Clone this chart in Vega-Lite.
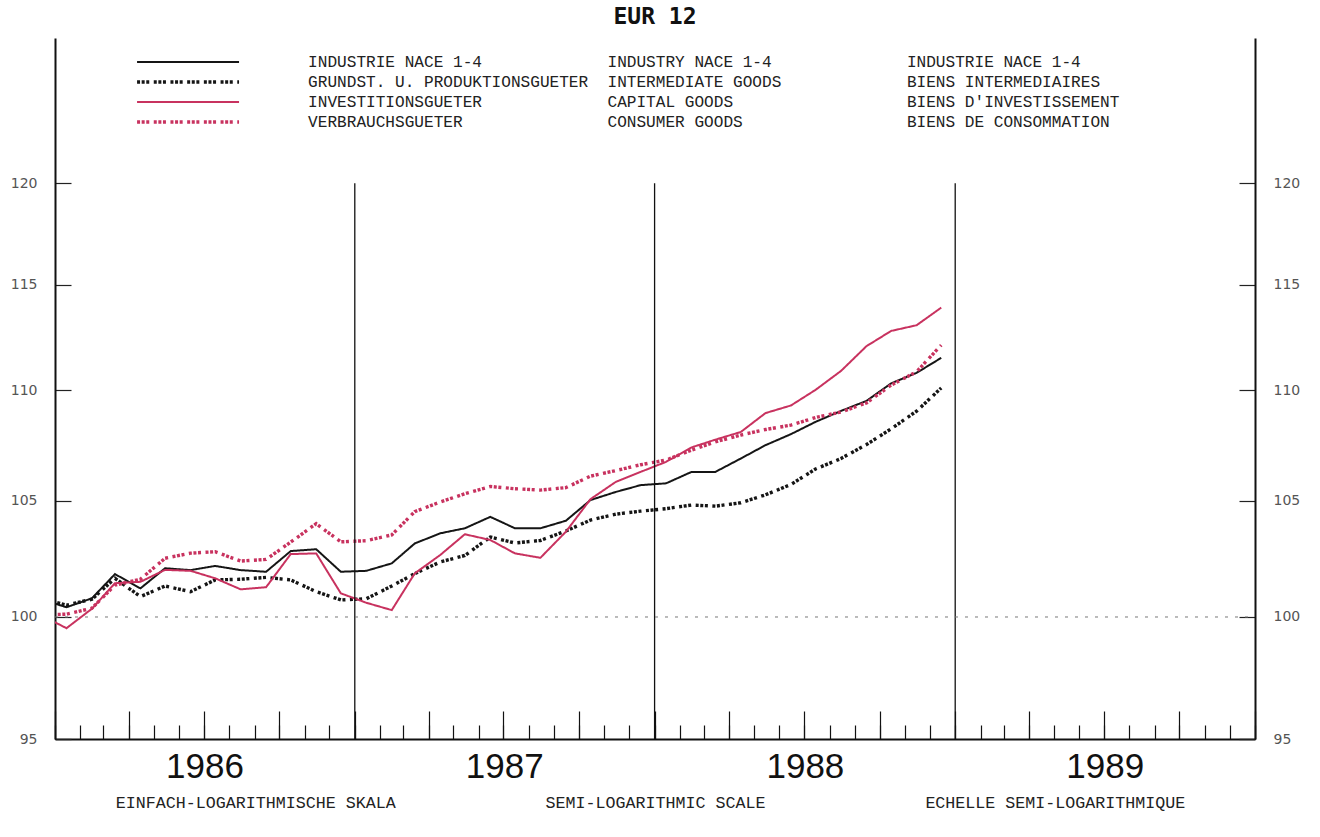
{
  "$schema": "https://vega.github.io/schema/vega-lite/v6.json",
  "width": 1200,
  "height": 701,
  "autosize": {"type": "none"},
  "padding": {"left": 55, "top": 38, "right": 65, "bottom": 98},
  "background": "white",
  "title": {"text": "EUR 12", "font": "DejaVu Sans Mono", "fontSize": 23, "fontWeight": "bold", "color": "#111", "anchor": "middle", "offset": 9},
  "config": {
    "view": {"stroke": null},
    "legend": {
      "orient": "none", "legendX": 82, "legendY": 14, "padding": 0, "title": null,
      "symbolType": "stroke", "symbolSize": 10400, "clipHeight": 20, "rowPadding": 0,
      "symbolOffset": 43, "labelOffset": 112, "labelLimit": 1300, "labelFont": "Liberation Mono", "labelFontSize": 16.1, "labelColor": "#222",
      "symbolStrokeWidth": 2.2
    }
  },
  "layer": [
    {
      "data": {"values": [
        {"date": "1985-12-15", "industrie": 100.75, "grundstoff": 100.78, "investition": 100.08, "verbrauch": 100.08},
        {"date": "1986-01-15", "industrie": 100.41, "grundstoff": 100.50, "investition": 99.53, "verbrauch": 100.12},
        {"date": "1986-02-15", "industrie": 100.79, "grundstoff": 100.75, "investition": 100.35, "verbrauch": 100.37},
        {"date": "1986-03-15", "industrie": 101.82, "grundstoff": 101.64, "investition": 101.43, "verbrauch": 101.35},
        {"date": "1986-04-15", "industrie": 101.21, "grundstoff": 100.86, "investition": 101.49, "verbrauch": 101.60},
        {"date": "1986-05-15", "industrie": 102.07, "grundstoff": 101.31, "investition": 102.00, "verbrauch": 102.50},
        {"date": "1986-06-15", "industrie": 101.99, "grundstoff": 101.07, "investition": 101.96, "verbrauch": 102.72},
        {"date": "1986-07-15", "industrie": 102.17, "grundstoff": 101.57, "investition": 101.64, "verbrauch": 102.78},
        {"date": "1986-08-15", "industrie": 101.99, "grundstoff": 101.60, "investition": 101.17, "verbrauch": 102.38},
        {"date": "1986-09-15", "industrie": 101.92, "grundstoff": 101.68, "investition": 101.26, "verbrauch": 102.45},
        {"date": "1986-10-15", "industrie": 102.81, "grundstoff": 101.57, "investition": 102.68, "verbrauch": 103.20},
        {"date": "1986-11-15", "industrie": 102.89, "grundstoff": 101.07, "investition": 102.71, "verbrauch": 104.00},
        {"date": "1986-12-15", "industrie": 101.92, "grundstoff": 100.72, "investition": 101.00, "verbrauch": 103.21},
        {"date": "1987-01-15", "industrie": 101.96, "grundstoff": 100.77, "investition": 100.60, "verbrauch": 103.26},
        {"date": "1987-02-15", "industrie": 102.28, "grundstoff": 101.31, "investition": 100.29, "verbrauch": 103.51},
        {"date": "1987-03-15", "industrie": 103.14, "grundstoff": 101.84, "investition": 101.85, "verbrauch": 104.53},
        {"date": "1987-04-15", "industrie": 103.58, "grundstoff": 102.34, "investition": 102.64, "verbrauch": 104.95},
        {"date": "1987-05-15", "industrie": 103.80, "grundstoff": 102.62, "investition": 103.54, "verbrauch": 105.32},
        {"date": "1987-06-15", "industrie": 104.30, "grundstoff": 103.42, "investition": 103.29, "verbrauch": 105.64},
        {"date": "1987-07-15", "industrie": 103.80, "grundstoff": 103.16, "investition": 102.71, "verbrauch": 105.54},
        {"date": "1987-08-15", "industrie": 103.80, "grundstoff": 103.27, "investition": 102.52, "verbrauch": 105.48},
        {"date": "1987-09-15", "industrie": 104.13, "grundstoff": 103.68, "investition": 103.65, "verbrauch": 105.59},
        {"date": "1987-10-15", "industrie": 105.04, "grundstoff": 104.16, "investition": 105.08, "verbrauch": 106.10},
        {"date": "1987-11-15", "industrie": 105.40, "grundstoff": 104.42, "investition": 105.85, "verbrauch": 106.35},
        {"date": "1987-12-15", "industrie": 105.70, "grundstoff": 104.55, "investition": 106.29, "verbrauch": 106.61},
        {"date": "1988-01-15", "industrie": 105.78, "grundstoff": 104.66, "investition": 106.74, "verbrauch": 106.82},
        {"date": "1988-02-15", "industrie": 106.29, "grundstoff": 104.82, "investition": 107.39, "verbrauch": 107.27},
        {"date": "1988-03-15", "industrie": 106.29, "grundstoff": 104.77, "investition": 107.74, "verbrauch": 107.64},
        {"date": "1988-04-15", "industrie": 106.89, "grundstoff": 104.92, "investition": 108.09, "verbrauch": 107.95},
        {"date": "1988-05-15", "industrie": 107.49, "grundstoff": 105.27, "investition": 108.95, "verbrauch": 108.20},
        {"date": "1988-06-15", "industrie": 107.99, "grundstoff": 105.73, "investition": 109.30, "verbrauch": 108.40},
        {"date": "1988-07-15", "industrie": 108.55, "grundstoff": 106.42, "investition": 110.02, "verbrauch": 108.75},
        {"date": "1988-08-15", "industrie": 109.05, "grundstoff": 106.89, "investition": 110.90, "verbrauch": 109.00},
        {"date": "1988-09-15", "industrie": 109.51, "grundstoff": 107.52, "investition": 112.06, "verbrauch": 109.42},
        {"date": "1988-10-15", "industrie": 110.32, "grundstoff": 108.23, "investition": 112.78, "verbrauch": 110.24},
        {"date": "1988-11-15", "industrie": 110.81, "grundstoff": 109.04, "investition": 113.05, "verbrauch": 110.86},
        {"date": "1988-12-15", "industrie": 111.51, "grundstoff": 110.11, "investition": 113.89, "verbrauch": 112.11}
      ]},
      "transform": [{"fold": ["industrie", "grundstoff", "investition", "verbrauch"], "as": ["series", "value"]}],
      "mark": {"type": "line", "clip": true, "strokeCap": "butt"},
      "encoding": {
        "x": {
          "field": "date", "type": "temporal",
          "scale": {"type": "utc", "domain": [{"year": 1986, "month": 1, "date": 1, "utc": true}, {"year": 1990, "month": 1, "date": 1, "utc": true}]},
          "axis": {"orient": "bottom", "title": null, "labels": false, "grid": false, "tickCount": {"interval": "month", "step": 1}, "tickSize": -14, "tickColor": "#111", "tickWidth": 1.2, "domain": true, "domainColor": "#111", "domainWidth": 2}
        },
        "y": {
          "field": "value", "type": "quantitative",
          "scale": {"type": "log", "domain": [95, 127.56], "nice": false, "zero": false},
          "axis": {"orient": "left", "title": null, "grid": false, "values": [95, 100, 105, 110, 115, 120], "tickSize": -16, "tickColor": "#222", "tickWidth": 1.2, "domainColor": "#111", "domainWidth": 2, "labelPadding": 34, "labelFont": "DejaVu Sans", "labelFontSize": 14, "labelColor": "#555"}
        },
        "color": {
          "field": "series", "type": "nominal",
          "scale": {"domain": ["industrie", "grundstoff", "investition", "verbrauch"], "range": ["#151515", "#151515", "#c8325f", "#c8325f"]},
          "legend": {
            "labelExpr": "datum.value == 'industrie' ? 'INDUSTRIE NACE 1-4\u00a0\u00a0\u00a0\u00a0\u00a0\u00a0\u00a0\u00a0\u00a0\u00a0\u00a0\u00a0\u00a0INDUSTRY NACE 1-4\u00a0\u00a0\u00a0\u00a0\u00a0\u00a0\u00a0\u00a0\u00a0\u00a0\u00a0\u00a0\u00a0\u00a0INDUSTRIE NACE 1-4' : datum.value == 'grundstoff' ? 'GRUNDST. U. PRODUKTIONSGUETER\u00a0\u00a0INTERMEDIATE GOODS\u00a0\u00a0\u00a0\u00a0\u00a0\u00a0\u00a0\u00a0\u00a0\u00a0\u00a0\u00a0\u00a0BIENS INTERMEDIAIRES' : datum.value == 'investition' ? \"INVESTITIONSGUETER\u00a0\u00a0\u00a0\u00a0\u00a0\u00a0\u00a0\u00a0\u00a0\u00a0\u00a0\u00a0\u00a0CAPITAL GOODS\u00a0\u00a0\u00a0\u00a0\u00a0\u00a0\u00a0\u00a0\u00a0\u00a0\u00a0\u00a0\u00a0\u00a0\u00a0\u00a0\u00a0\u00a0BIENS D'INVESTISSEMENT\" : 'VERBRAUCHSGUETER\u00a0\u00a0\u00a0\u00a0\u00a0\u00a0\u00a0\u00a0\u00a0\u00a0\u00a0\u00a0\u00a0\u00a0\u00a0CONSUMER GOODS\u00a0\u00a0\u00a0\u00a0\u00a0\u00a0\u00a0\u00a0\u00a0\u00a0\u00a0\u00a0\u00a0\u00a0\u00a0\u00a0\u00a0BIENS DE CONSOMMATION'",
            "encode": {"symbols": {"update": {"strokeWidth": {"signal": "datum.value == 'grundstoff' || datum.value == 'verbrauch' ? 3.6 : 2.2"}}}}
          }
        },
        "strokeDash": {
          "field": "series", "type": "nominal",
          "scale": {"domain": ["industrie", "grundstoff", "investition", "verbrauch"], "range": [[1, 0], [3, 1.6, 3, 1.6, 3, 4.5], [1, 0], [3, 1.6, 3, 1.6, 3, 4.5]]}
        },
        "strokeWidth": {"condition": {"test": "datum.series == 'grundstoff' || datum.series == 'verbrauch'", "value": 3.4}, "value": 2}
      }
    },
    {
      "data": {"values": [{"date": "1987-01-01"}, {"date": "1988-01-01"}, {"date": "1989-01-01"}]},
      "mark": {"type": "rule", "color": "#111", "strokeWidth": 1.3},
      "encoding": {
        "x": {"field": "date", "type": "temporal", "axis": {"orient": "bottom", "title": null, "labels": false, "grid": false, "domain": false, "tickCount": {"interval": "month", "step": 3}, "tickSize": -28, "tickColor": "#111", "tickWidth": 1.2}},
        "y": {"datum": 95, "type": "quantitative", "axis": {"orient": "right", "title": null, "grid": false, "values": [95, 100, 105, 110, 115, 120], "tickSize": -16, "tickColor": "#222", "tickWidth": 1.2, "domainColor": "#111", "domainWidth": 2, "labelPadding": 34, "labelFont": "DejaVu Sans", "labelFontSize": 14, "labelColor": "#555"}},
        "y2": {"datum": 120}
      }
    },
    {
      "data": {"values": [{}]},
      "mark": {"type": "rule", "color": "#777", "strokeWidth": 1, "strokeDash": [3, 7]},
      "encoding": {
        "x": {"datum": {"year": 1986, "month": 1, "date": 1, "utc": true}, "type": "temporal",
          "axis": {"orient": "bottom", "values": [{"year": 1986, "month": 7, "date": 2, "utc": true}, {"year": 1987, "month": 7, "date": 2, "utc": true}, {"year": 1988, "month": 7, "date": 2, "utc": true}, {"year": 1989, "month": 7, "date": 2, "utc": true}],
            "labelExpr": "utcFormat(datum.value, '%Y')", "ticks": false, "domain": false, "grid": false,
            "labelFont": "Liberation Sans", "labelFontSize": 35, "labelColor": "#111", "labelPadding": 10,
            "title": "EINFACH-LOGARITHMISCHE SKALA\u00a0\u00a0\u00a0\u00a0\u00a0\u00a0\u00a0\u00a0\u00a0\u00a0\u00a0\u00a0\u00a0\u00a0\u00a0SEMI-LOGARITHMIC SCALE\u00a0\u00a0\u00a0\u00a0\u00a0\u00a0\u00a0\u00a0\u00a0\u00a0\u00a0\u00a0\u00a0\u00a0\u00a0\u00a0ECHELLE SEMI-LOGARITHMIQUE",
            "titleFont": "Liberation Mono", "titleFontSize": 16.67, "titleFontWeight": "normal", "titleColor": "#222", "titleX": 595, "titleY": 63, "titleAnchor": null, "titleAlign": "center", "titleBaseline": "middle"}},
        "x2": {"datum": {"year": 1990, "month": 1, "date": 1, "utc": true}},
        "y": {"datum": 100, "type": "quantitative", "axis": null}
      }
    }
  ],
  "resolve": {"axis": {"x": "independent", "y": "independent"}}
}
